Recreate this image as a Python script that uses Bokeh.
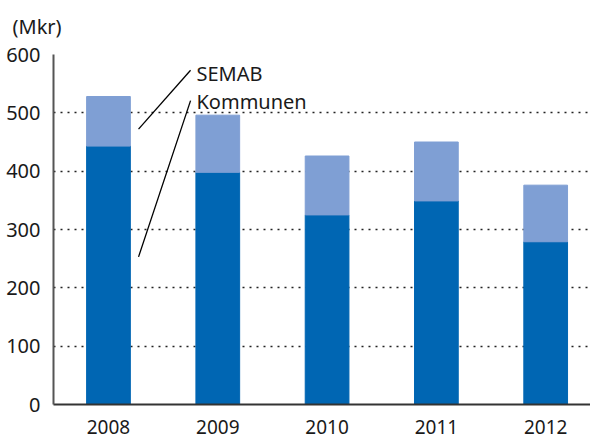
from bokeh.plotting import figure
from bokeh.models import Label, FixedTicker, Range1d, ColumnDataSource
from bokeh.embed import file_html
from bokeh.resources import INLINE

years = ["2008", "2009", "2010", "2011", "2012"]
kommunen = [443, 398, 325, 349, 279]
semab = [85, 98, 101, 101, 97]
y_ticks = [0, 100, 200, 300, 400, 500, 600]

DARK = "#0066b3"
LIGHT = "#7f9fd4"
FONT = "Noto Sans"
TXT = "#1a1a1a"

xs = list(range(len(years)))
totals = [k + s for k, s in zip(kommunen, semab)]
src = ColumnDataSource(dict(x=xs, k=kommunen, t=totals, zero=[0] * len(xs)))

p = figure(width=590, height=439, output_backend="svg", toolbar_location=None,
           x_range=Range1d(-0.503, 4.41), y_range=Range1d(0, 600),
           min_border_left=53, min_border_right=0, min_border_top=53, min_border_bottom=35,
           title="(Mkr)")
p.outline_line_color = None
p.background_fill_color = "white"

p.title.align = "left"
p.title.vertical_align = "top"
p.title.offset = -41
p.title.standoff = 25
p.title.text_font = FONT
p.title.text_font_size = "20px"
p.title.text_font_style = "normal"
p.title.text_color = TXT

p.vbar(x="x", bottom="zero", top="k", width=0.4, color=DARK, source=src)
p.vbar(x="x", bottom="k", top="t", width=0.4, color=LIGHT, source=src)

# axes
p.xaxis.ticker = FixedTicker(ticks=xs)
p.xaxis.major_label_overrides = {i: y for i, y in enumerate(years)}
p.xaxis.major_tick_line_color = None
p.xaxis.minor_tick_line_color = None
p.xaxis.axis_line_color = "#333333"
p.xaxis.axis_line_width = 2
p.xaxis.major_label_standoff = 9
p.xaxis.major_label_text_font = FONT
p.xaxis.major_label_text_font_size = "19px"
p.xaxis.major_label_text_color = TXT

p.yaxis.ticker = FixedTicker(ticks=y_ticks)
p.yaxis.major_tick_line_color = None
p.yaxis.minor_tick_line_color = None
p.yaxis.axis_line_color = "#555555"
p.yaxis.axis_line_width = 2
p.yaxis.major_label_standoff = 7
p.yaxis.major_label_text_font = FONT
p.yaxis.major_label_text_font_size = "20px"
p.yaxis.major_label_text_color = TXT

p.xgrid.grid_line_color = None
p.ygrid.ticker = FixedTicker(ticks=y_ticks[1:])
p.ygrid.grid_line_color = "#222222"
p.ygrid.grid_line_width = 1.5
p.ygrid.grid_line_dash = "2 5"

# annotation leader lines
p.segment(x0=[0.275, 0.275], y0=[472, 253], x1=[0.751, 0.751], y1=[573, 521],
          line_color="black", line_width=1.3)
p.add_layout(Label(x=0.805, y=567.5, text="SEMAB", text_font=FONT, text_font_size="20px",
                   text_baseline="alphabetic", text_color=TXT))
p.add_layout(Label(x=0.805, y=519.7, text="Kommunen", text_font=FONT, text_font_size="20px",
                   text_baseline="alphabetic", text_color=TXT))

open("out.html", "w").write(file_html(p, INLINE))
